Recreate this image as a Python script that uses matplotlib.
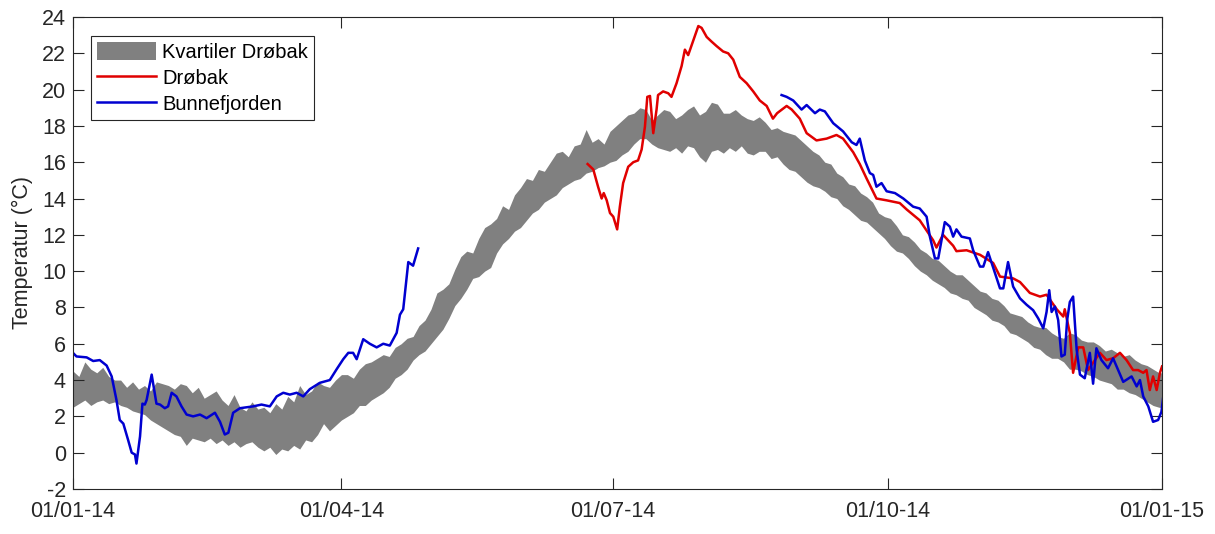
import numpy as np
import matplotlib
matplotlib.use("Agg")
import matplotlib.pyplot as plt

# --- Data (dag i året 2014, temperatur i °C) ---
# Kvartiler for Drøbak, annenhver dag
kvartil_dager = list(range(0, 365, 2)) + [365]
kvartil_ovre = [4.5, 4.2, 5.0, 4.6, 4.4, 4.7, 4.2, 4.0, 4.0, 3.6, 3.9, 3.5, 3.7, 3.4, 3.9, 3.8,
                3.7, 3.5, 3.8, 3.7, 3.3, 3.6, 3.0, 3.2, 3.4, 2.9, 2.6, 3.2, 2.5, 2.3, 2.8, 2.4,
                2.5, 2.2, 2.7, 2.4, 3.1, 2.8, 3.7, 3.2, 3.4, 3.9, 3.7, 3.6, 4.0, 4.3, 4.3, 4.1,
                4.6, 4.9, 5.0, 5.2, 5.4, 5.3, 5.8, 6.0, 6.3, 6.4, 7.0, 7.3, 7.9, 8.8, 9.0, 9.3,
                10.1, 10.8, 11.1, 11.0, 11.8, 12.4, 12.6, 12.9, 13.6, 13.4, 14.2, 14.6, 15.1,
                15.0, 15.6, 15.5, 16.0, 16.5, 16.6, 16.3, 16.9, 17.0, 17.8, 17.1, 17.3, 17.0,
                17.7, 18.0, 18.3, 18.6, 18.7, 19.0, 18.9, 18.3, 18.6, 18.9, 18.8, 18.4, 18.6,
                18.9, 19.1, 18.6, 18.8, 19.3, 19.2, 18.7, 18.7, 18.9, 18.6, 18.4, 18.3, 18.5,
                18.2, 17.8, 17.9, 17.7, 17.6, 17.5, 17.2, 16.9, 16.6, 16.4, 16.0, 15.9, 15.4,
                15.2, 14.8, 14.7, 14.3, 14.1, 13.8, 13.2, 13.0, 12.9, 12.5, 12.0, 11.9, 11.6,
                11.2, 11.0, 10.7, 10.6, 10.3, 10.0, 9.8, 9.8, 9.5, 9.2, 8.9, 8.8, 8.5, 8.4, 8.1,
                7.7, 7.6, 7.5, 7.2, 7.0, 6.9, 6.9, 6.6, 6.4, 6.3, 6.6, 6.5, 6.2, 6.1, 6.1, 5.9,
                5.6, 5.7, 5.5, 5.3, 5.4, 5.1, 4.9, 4.8, 4.6, 4.4, 4.4]
kvartil_nedre = [2.5, 2.7, 2.9, 2.6, 2.8, 2.9, 2.7, 2.8, 2.6, 2.5, 2.3, 2.2, 2.1, 1.8, 1.6, 1.4,
                 1.2, 1.0, 0.9, 0.4, 0.8, 0.7, 0.6, 0.8, 0.5, 0.7, 0.4, 0.6, 0.3, 0.5, 0.6, 0.3,
                 0.1, 0.3, -0.1, 0.2, 0.1, 0.4, 0.2, 0.7, 0.6, 1.0, 1.6, 1.2, 1.5, 1.8, 2.0, 2.2,
                 2.6, 2.6, 2.9, 3.1, 3.3, 3.6, 4.1, 4.3, 4.6, 5.1, 5.4, 5.6, 6.0, 6.4, 6.8, 7.4,
                 8.1, 8.5, 9.0, 9.6, 9.7, 10.0, 10.2, 11.0, 11.5, 11.8, 12.2, 12.4, 12.8, 13.2,
                 13.4, 13.8, 14.0, 14.2, 14.6, 14.8, 15.0, 15.1, 15.4, 15.5, 15.7, 15.8, 16.0,
                 16.1, 16.4, 16.6, 17.0, 17.3, 17.3, 17.0, 16.8, 16.7, 16.6, 16.8, 16.5, 16.9,
                 16.8, 16.3, 16.0, 16.6, 16.7, 16.5, 16.8, 16.6, 16.9, 16.5, 16.4, 16.6, 16.6,
                 16.2, 16.3, 15.9, 15.6, 15.5, 15.2, 14.9, 14.7, 14.6, 14.4, 14.1, 14.0, 13.6,
                 13.4, 13.1, 12.8, 12.7, 12.4, 12.1, 11.8, 11.4, 11.1, 11.0, 10.7, 10.3, 10.0,
                 9.8, 9.5, 9.3, 9.1, 8.8, 8.7, 8.5, 8.4, 8.0, 7.8, 7.6, 7.3, 7.2, 7.0, 6.6, 6.5,
                 6.3, 6.1, 5.8, 5.7, 5.4, 5.2, 5.2, 5.0, 4.6, 4.6, 4.5, 4.3, 4.2, 4.0, 3.9, 3.8,
                 3.5, 3.5, 3.3, 3.2, 3.0, 2.8, 2.6, 2.5, 2.5]

drobak_dager = [172.5, 174.4, 176.0, 177.2, 177.9, 178.9, 180.0, 181.1, 182.4, 183.3, 184.4,
                186.1, 187.8, 189.4, 190.6, 191.7, 192.5, 193.4, 194.5, 195.6, 196.1, 197.8,
                199.5, 200.6, 202.3, 204.0, 205.1, 206.2, 207.9, 209.6, 210.7, 212.4, 214.0,
                215.7, 217.9, 219.6, 221.3, 223.5, 225.8, 228.0, 230.2, 232.5, 234.6, 236.0,
                239.2, 240.9, 243.6, 245.9, 249.2, 252.6, 255.9, 258.1, 261.5, 263.7, 266.0,
                269.3, 272.7, 277.1, 279.4, 283.8, 288.3, 289.4, 291.6, 295.0, 296.1, 299.5,
                304.0, 308.4, 310.7, 315.1, 317.4, 320.7, 324.1, 326.3, 329.7, 331.9, 332.4,
                334.1, 335.2, 336.9, 338.6, 340.2, 342.5, 344.2, 346.4, 348.6, 350.9, 353.1,
                355.3, 357.0, 358.7, 359.8, 360.9, 362.0, 363.2, 364.3, 365.0]
drobak_temp = [15.9, 15.6, 14.65, 14.0, 14.3, 13.9, 13.2, 13.0, 12.3, 13.55, 14.85, 15.75,
               16.0, 16.1, 16.7, 17.95, 19.6, 19.65, 17.6, 18.9, 19.7, 19.9, 19.8, 19.6, 20.35,
               21.3, 22.2, 21.9, 22.7, 23.5, 23.4, 22.9, 22.65, 22.4, 22.1, 22.0, 21.65, 20.7,
               20.35, 19.9, 19.4, 19.1, 18.4, 18.7, 19.1, 18.9, 18.4, 17.6, 17.2, 17.3, 17.5,
               17.3, 16.55, 15.9, 15.1, 14.0, 13.9, 13.75, 13.4, 12.8, 11.7, 11.3, 12.0, 11.4,
               11.1, 11.15, 10.9, 10.45, 9.7, 9.6, 9.4, 8.8, 8.6, 8.7, 7.9, 7.5, 7.9, 6.6, 4.4,
               5.8, 5.8, 4.55, 5.1, 5.5, 5.1, 5.2, 5.5, 5.1, 4.55, 4.55, 4.4, 4.55, 3.45, 4.2,
               3.45, 4.4, 4.75]

# Bunnefjorden har et opphold i målingene mellom mai og august
bunne_dager_1 = [0, 1.2, 4.6, 6.8, 9.0, 11.3, 13.0, 14.6, 15.7, 16.9, 18.5, 19.7, 20.8, 21.3,
                 22.5, 23.3, 24.1, 24.7, 26.4, 28.0, 29.2, 30.8, 31.9, 33.1, 34.7, 36.4, 38.1,
                 40.3, 42.6, 44.8, 47.6, 49.3, 50.9, 52.1, 53.7, 56.0, 60.4, 63.2, 66.0, 68.3,
                 70.5, 72.7, 75.0, 77.2, 79.4, 82.8, 86.1, 88.4, 90.6, 92.3, 93.9, 95.1, 97.3,
                 99.5, 101.8, 104.0, 106.2, 108.5, 109.6, 110.7, 112.4, 114.0, 115.7]
bunne_temp_1 = [5.5, 5.3, 5.25, 5.05, 5.1, 4.8, 4.2, 2.9, 1.8, 1.6, 0.7, 0.0, -0.1, -0.6, 0.9,
                2.7, 2.65, 2.9, 4.3, 2.7, 2.65, 2.45, 2.55, 3.3, 3.1, 2.55, 2.1, 2.0, 2.1, 1.9,
                2.2, 1.7, 1.0, 1.1, 2.2, 2.45, 2.55, 2.65, 2.55, 3.1, 3.3, 3.2, 3.3, 3.1, 3.5,
                3.85, 4.0, 4.6, 5.15, 5.5, 5.5, 5.15, 6.25, 6.0, 5.8, 6.0, 5.9, 6.6, 7.6, 7.9,
                10.5, 10.3, 11.25]
bunne_dager_2 = [237.5, 239.2, 241.4, 244.2, 245.9, 248.7, 250.3, 252.0, 254.8, 258.1, 261.0,
                 262.6, 263.7, 265.4, 267.1, 268.2, 269.3, 271.0, 272.7, 275.5, 278.3, 281.6,
                 283.8, 286.1, 287.2, 288.9, 290.0, 292.2, 293.9, 295.0, 296.1, 297.8, 300.6,
                 301.7, 304.0, 305.1, 306.7, 309.0, 310.7, 311.8, 313.4, 315.1, 317.4, 319.6,
                 321.8, 323.5, 325.2, 326.3, 327.2, 328.0, 329.1, 330.2, 331.3, 332.4, 333.2,
                 334.1, 335.2, 336.4, 337.5, 339.1, 340.8, 341.9, 343.0, 344.7, 346.9, 348.6,
                 350.3, 352.0, 354.8, 356.5, 357.6, 358.7, 360.4, 362.0, 363.7, 364.8, 365.5]
bunne_temp_2 = [19.7, 19.6, 19.4, 18.9, 19.15, 18.7, 18.9, 18.8, 18.15, 17.7, 17.1, 16.95,
                17.3, 16.1, 15.4, 15.3, 14.65, 14.85, 14.4, 14.3, 14.0, 13.55, 13.45, 13.0, 11.9,
                10.7, 10.7, 12.7, 12.45, 11.9, 12.3, 11.9, 11.8, 11.15, 10.25, 10.25, 11.05, 9.9,
                9.05, 9.05, 10.5, 9.15, 8.5, 8.15, 7.85, 7.4, 6.85, 7.75, 8.95, 7.75, 8.05, 7.3,
                5.3, 5.4, 7.3, 8.3, 8.6, 5.65, 4.3, 4.1, 5.5, 3.8, 5.75, 5.1, 4.65, 5.2, 4.55,
                3.9, 4.2, 3.65, 4.0, 3.1, 2.55, 1.7, 1.8, 2.25, 3.2]

x_ticks = [0, 90, 181, 273, 365]
x_labels = ["01/01-14", "01/04-14", "01/07-14", "01/10-14", "01/01-15"]

# --- Figur ---
plt.rcParams['font.family'] = ['Liberation Sans', 'DejaVu Sans']
plt.rcParams['axes.unicode_minus'] = False
fig = plt.figure(figsize=(12.15, 5.34), dpi=100)
ax = fig.add_axes([0.060, 0.0843, 0.8964, 0.8839])

ax.fill_between(kvartil_dager, kvartil_nedre, kvartil_ovre, color='#808080',
                linewidth=0, label="Kvartiler Drøbak")
ax.plot(drobak_dager, drobak_temp, color='#e00000', linewidth=1.8, label="Drøbak")
ax.plot(bunne_dager_1, bunne_temp_1, color='#0000d0', linewidth=1.8, label="Bunnefjorden")
ax.plot(bunne_dager_2, bunne_temp_2, color='#0000d0', linewidth=1.8)

ax.set_xlim(0, 365)
ax.set_ylim(-2, 24)
ax.set_xticks(x_ticks)
ax.set_xticklabels(x_labels)
ax.set_yticks(np.arange(-2, 25, 2))
ax.set_ylabel("Temperatur (°C)", fontsize=15.5, color='#262626', labelpad=6)

ax.tick_params(direction='in', length=8, width=0.8, top=True, right=True,
               labelsize=15.5, colors='#262626', pad=5)
ax.tick_params(axis='x', pad=9)
for spine in ax.spines.values():
    spine.set_color('#262626')
    spine.set_linewidth(0.8)

leg = ax.legend(loc='upper left', bbox_to_anchor=(0.017, 0.96), fontsize=14.5,
                handlelength=2.9, handleheight=1.0, handletextpad=0.3, borderpad=0.3,
                labelspacing=0.3, fancybox=False, framealpha=1, edgecolor='#262626',
                borderaxespad=0)
leg.get_frame().set_linewidth(0.8)

fig.savefig("out.png", dpi=100)
